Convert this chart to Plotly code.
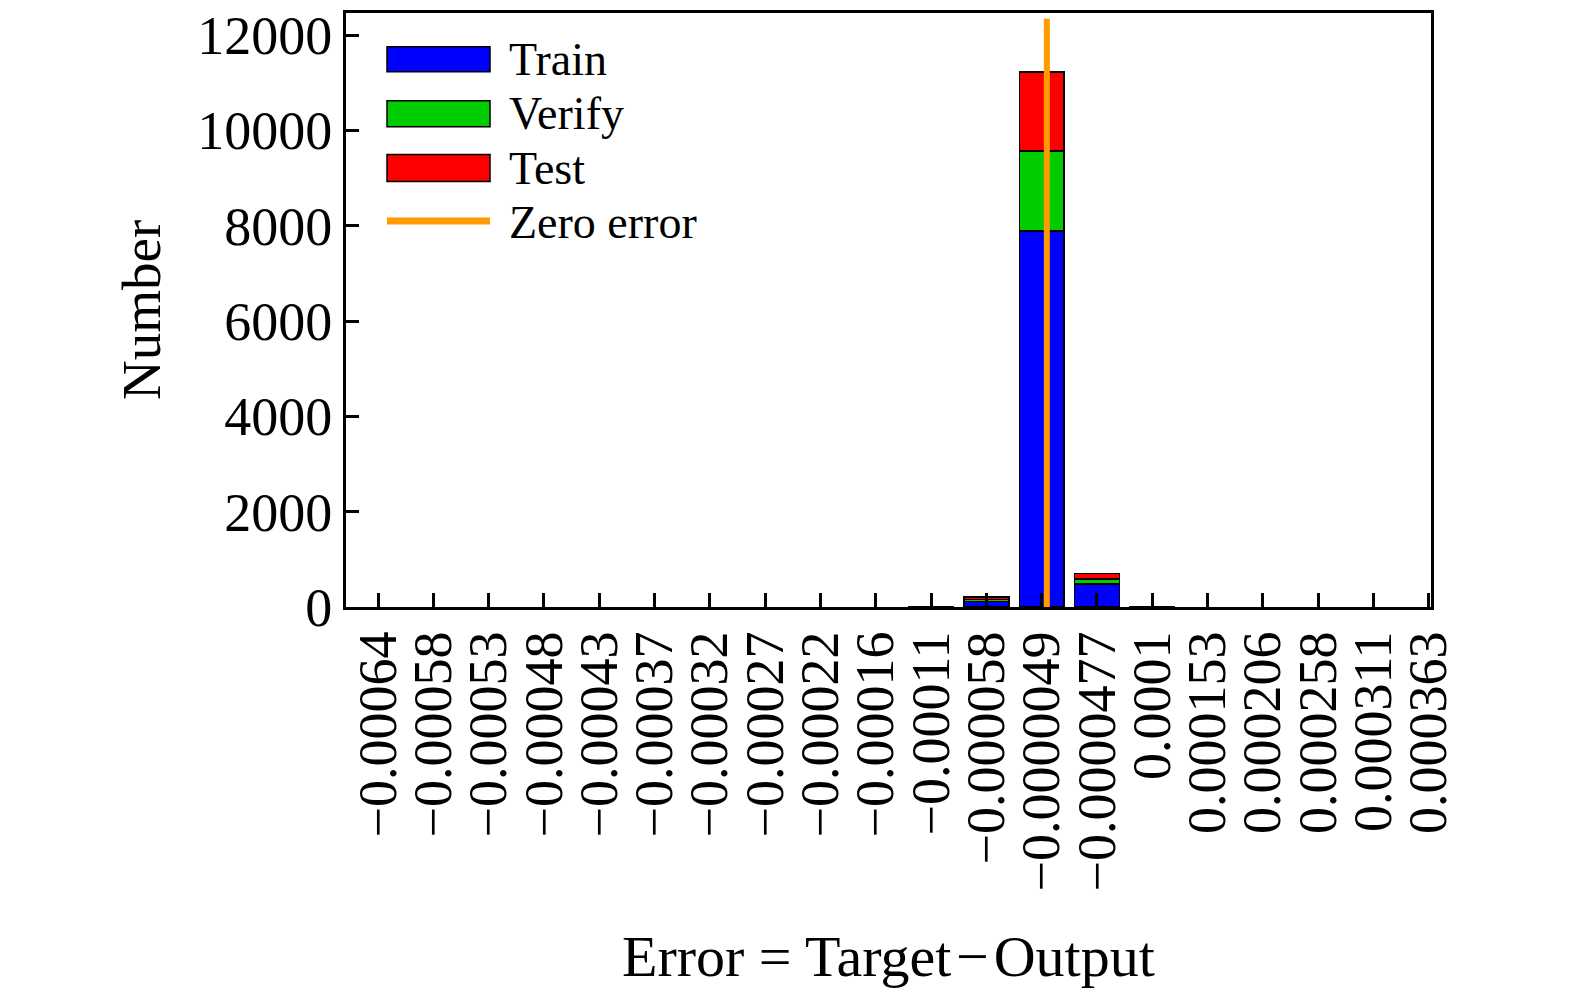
import numpy as np
import plotly.graph_objects as go

# ---- data ----
tick_labels = ["−0.00064", "−0.00058", "−0.00053", "−0.00048", "−0.00043",
               "−0.00037", "−0.00032", "−0.00027", "−0.00022", "−0.00016",
               "−0.00011", "−0.000058", "−0.0000049", "−0.0000477", "0.0001",
               "0.000153", "0.000206", "0.000258", "0.000311", "0.000363"]
bin_centers = [-0.00064, -0.00058, -0.00053, -0.00048, -0.00043,
               -0.00037, -0.00032, -0.00027, -0.00022, -0.00016,
               -0.00011, -0.000058, -0.0000049, 0.0000477, 0.0001,
               0.000153, 0.000206, 0.000258, 0.000311, 0.000363]
train = [0, 0, 0, 0, 0, 0, 0, 0, 0, 0, 6, 120, 7890, 480, 8, 0, 0, 0, 0, 0]
verify = [0, 0, 0, 0, 0, 0, 0, 0, 0, 0, 0, 40, 1680, 110, 0, 0, 0, 0, 0, 0]
test = [0, 0, 0, 0, 0, 0, 0, 0, 0, 0, 0, 45, 1655, 110, 0, 0, 0, 0, 0, 0]
y_ticks = [0, 2000, 4000, 6000, 8000, 10000, 12000]

idx = list(range(len(tick_labels)))
zero_pos = float(np.interp(0.0, bin_centers, idx))
totals = np.array(train) + np.array(verify) + np.array(test)
zero_top = 1.1 * totals.max()

FONT = "Liberation Serif"
BLUE, GREEN, RED, ORANGE = "#0000FF", "#00CC00", "#FF0000", "#FF9A00"


def nz(vals):
    # empty bins are not drawn (avoids outline slivers on the baseline)
    return [v if v > 0 else None for v in vals]


fig = go.Figure()
for name, vals, col in [("Train", train, BLUE), ("Verify", verify, GREEN), ("Test", test, RED)]:
    fig.add_trace(go.Bar(x=idx, y=nz(vals), name=name, width=0.81,
                         marker=dict(color=col, line=dict(color="black", width=1.5)),
                         showlegend=False))
fig.add_trace(go.Scatter(x=[zero_pos, zero_pos], y=[0, zero_top], mode="lines",
                         name="Zero error", line=dict(color=ORANGE, width=6),
                         showlegend=False))

# plot-area geometry (pixels)
PL, PR, PT, PB = 346, 1431, 13, 607
W, H = 1575, 994


def px(x):
    return (x - PL) / (PR - PL)


def py(y):
    return (PB - y) / (PB - PT)


LEG_SIZE = 46
shapes = []
annotations = []
legend_items = [("Train", BLUE, 46.7, 71.7), ("Verify", GREEN, 100.7, 126.7), ("Test", RED, 154.5, 181.5)]
for name, col, y0, y1 in legend_items:
    shapes.append(dict(type="rect", xref="paper", yref="paper",
                       x0=px(387), x1=px(490), y0=py(y1), y1=py(y0),
                       fillcolor=col, line=dict(color="black", width=1.5)))
    annotations.append(dict(text=name, xref="paper", yref="paper", x=px(507), y=py((y0 + y1) / 2),
                            xanchor="left", yanchor="middle", showarrow=False,
                            font=dict(family=FONT, size=LEG_SIZE, color="black")))
shapes.append(dict(type="line", xref="paper", yref="paper", x0=px(387), x1=px(490),
                   y0=py(221), y1=py(221), line=dict(color=ORANGE, width=7)))
annotations.append(dict(text="Zero error", xref="paper", yref="paper", x=px(507), y=py(222),
                        xanchor="left", yanchor="middle", showarrow=False,
                        font=dict(family=FONT, size=LEG_SIZE, color="black")))

annotations.append(dict(text="Number", xref="paper", yref="paper", x=px(141), y=0.5,
                        xanchor="center", yanchor="middle", textangle=-90, showarrow=False,
                        font=dict(family=FONT, size=55, color="black")))
annotations.append(dict(text="Error = Target\u200a−\u200aOutput", xref="paper", yref="paper",
                        x=0.5, y=py(957), xanchor="center", yanchor="middle", showarrow=False,
                        font=dict(family=FONT, size=58, color="black")))

fig.update_layout(
    width=W, height=H,
    margin=dict(l=PL, r=W - PR, t=PT, b=H - PB, pad=0),
    barmode="stack",
    plot_bgcolor="white", paper_bgcolor="white",
    font=dict(family=FONT, size=54, color="black"),
    shapes=shapes, annotations=annotations,
    showlegend=False,
)
fig.update_xaxes(range=[-0.58, 19.04], tickmode="array", tickvals=idx, ticktext=tick_labels,
                 tickangle=-90, ticks="inside", ticklen=14, tickwidth=2.5, tickcolor="black",
                 showline=True, linecolor="black", linewidth=3, mirror=True,
                 showgrid=False, zeroline=False, automargin=False,
                 tickfont=dict(family=FONT, size=54, color="black"))
fig.update_yaxes(range=[0, 12466], tickmode="array", tickvals=y_ticks,
                 ticktext=[str(v) for v in y_ticks],
                 ticks="inside", ticklen=13, tickwidth=2.5, tickcolor="black",
                 showline=True, linecolor="black", linewidth=3, mirror=True,
                 showgrid=False, zeroline=False, automargin=False,
                 tickfont=dict(family=FONT, size=54, color="black"))

fig.write_html("out.html", config={"displayModeBar": False},
               post_script="document.body.style.margin='0';document.body.style.overflow='hidden';")
